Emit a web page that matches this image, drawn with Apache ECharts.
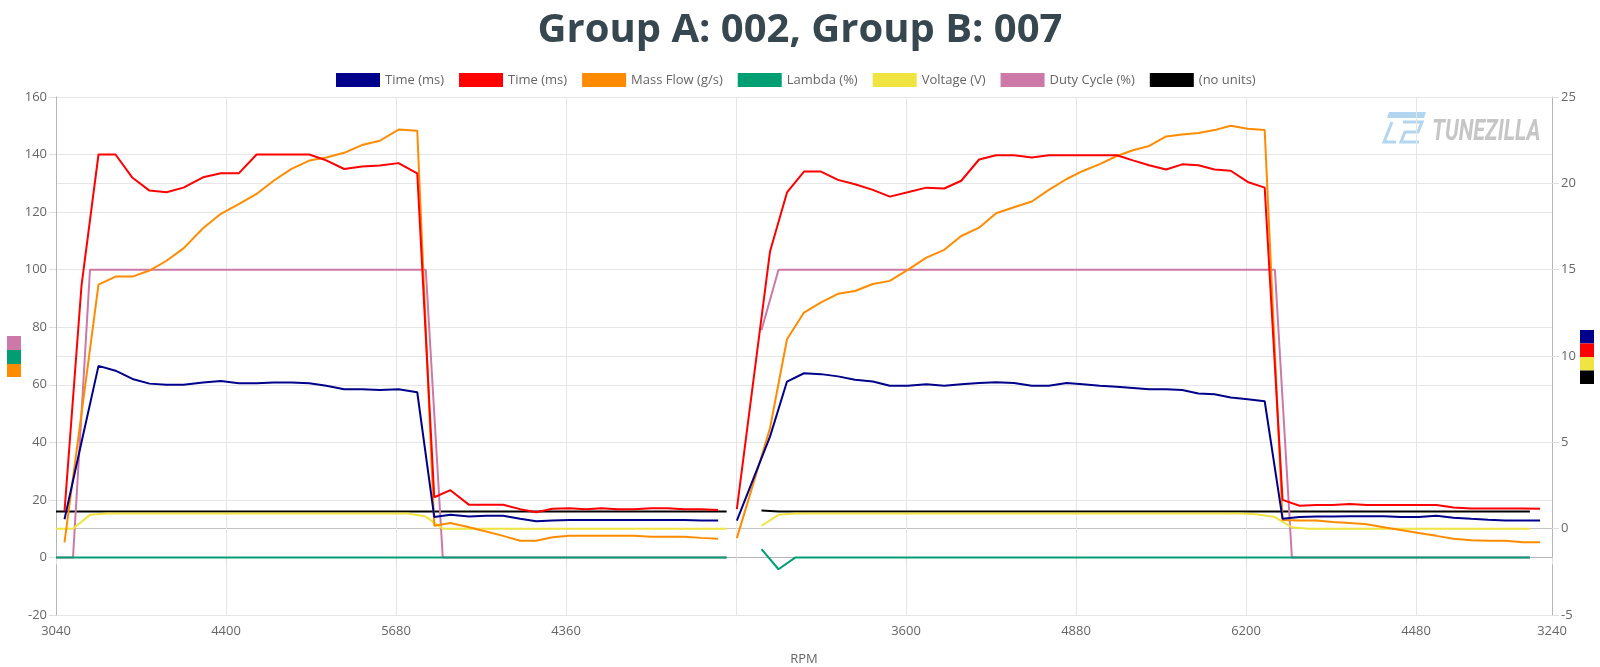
<!DOCTYPE html>
<html>
<head>
<meta charset="utf-8">
<title>Group A: 002, Group B: 007</title>
<script src="https://cdn.jsdelivr.net/npm/echarts@6/dist/echarts.min.js"></script>
<style>
  html, body { margin: 0; padding: 0; background: #fff; }
  #chart { width: 1600px; height: 667px; }
</style>
</head>
<body>
<div id="chart"></div>
<script>
// x is the sample position along the log, the RPM text is what was read at each gridline
const tickValues = [0, 10, 20, 30, 40, 50, 60, 70, 80, 88]
const tickLabels = ['3040', '4400', '5680', '4360', '', '3600', '4880', '6200', '4480', '3240']

// ---- Group A run ----
// fast channels (both injector times + mass flow)
const fastXA = [0.5, 1.5, 2.5, 3.5, 4.5, 5.5, 6.5, 7.5, 8.65, 9.7,
  10.75, 11.8, 12.8, 13.85, 14.9, 15.9, 16.95, 18, 19.05, 20.15,
  21.25, 22.25, 23.2, 24.3, 25.3, 26.3, 27.3, 28.25, 29.2, 30.2,
  31.15, 32.1, 33.05, 34, 35, 35.95, 36.95, 37.95, 38.95]
const timeBlueA = [0.55, 5.0, 9.43, 9.15, 8.67, 8.4, 8.33, 8.33, 8.47, 8.55,
  8.42, 8.42, 8.47, 8.47, 8.42, 8.28, 8.08, 8.08, 8.03, 8.08,
  7.9, 0.68, 0.8, 0.7, 0.75, 0.75, 0.58, 0.43, 0.47, 0.5,
  0.5, 0.5, 0.5, 0.5, 0.5, 0.5, 0.5, 0.48, 0.47]
const timeRedA = [1.0, 14.07, 21.67, 21.67, 20.32, 19.58, 19.48, 19.75, 20.35, 20.58,
  20.58, 21.67, 21.67, 21.67, 21.67, 21.33, 20.83, 20.98, 21.03, 21.17,
  20.58, 1.82, 2.23, 1.38, 1.38, 1.38, 1.13, 0.95, 1.15, 1.18,
  1.13, 1.18, 1.13, 1.13, 1.18, 1.18, 1.12, 1.12, 1.08]
const massFlowA = [5.2, 50, 94.8, 97.6, 97.6, 99.7, 103.1, 107.4, 114.4, 119.4,
  122.8, 126.3, 130.9, 135, 137.9, 139, 140.6, 143.3, 144.8, 148.7,
  148.3, 11, 12, 10.5, 9, 7.5, 5.8, 5.8, 7.0, 7.5,
  7.5, 7.5, 7.5, 7.5, 7.2, 7.2, 7.2, 6.8, 6.5]
// slow channels (lambda, voltage, duty, no units)
const slowXA = [0, 1, 2, 3, 4, 5, 6, 7, 8.1, 9.2,
  10.2, 11.3, 12.3, 13.3, 14.4, 15.4, 16.4, 17.5, 18.5, 19.6,
  20.7, 21.75, 22.75, 23.75, 24.8, 25.8, 26.8, 27.8, 28.75, 29.7,
  30.7, 31.65, 32.6, 33.55, 34.5, 35.5, 36.45, 37.45, 38.45, 39.45]
const lambdaA = [0, 0, 0, 0, 0, 0, 0, 0, 0, 0,
  0, 0, 0, 0, 0, 0, 0, 0, 0, 0,
  0, 0, 0, 0, 0, 0, 0, 0, 0, 0,
  0, 0, 0, 0, 0, 0, 0, 0, 0, 0]
const voltageA = [0, 0, 0.8, 0.88, 0.88, 0.88, 0.88, 0.88, 0.88, 0.88,
  0.88, 0.88, 0.88, 0.88, 0.88, 0.88, 0.88, 0.88, 0.88, 0.88,
  0.88, 0.7, 0, 0, 0, 0, 0, 0, 0, 0,
  0, 0, 0, 0, 0, 0, 0, 0, 0, 0]
const dutyA = [0, 0, 100, 100, 100, 100, 100, 100, 100, 100,
  100, 100, 100, 100, 100, 100, 100, 100, 100, 100,
  100, 100, 0, 0, 0, 0, 0, 0, 0, 0,
  0, 0, 0, 0, 0, 0, 0, 0, 0, 0]
const noUnitsA = [1, 1, 1, 1, 1, 1, 1, 1, 1, 1,
  1, 1, 1, 1, 1, 1, 1, 1, 1, 1,
  1, 1, 1, 1, 1, 1, 1, 1, 1, 1,
  1, 1, 1, 1, 1, 1, 1, 1, 1, 1]

// ---- Group B run ----
const fastXB = [40.05, 42, 43, 44, 45, 46, 47, 48.05, 49.05, 50.1,
  51.2, 52.25, 53.25, 54.3, 55.3, 56.35, 57.4, 58.4, 59.45, 60.4,
  61.4, 62.4, 63.35, 64.3, 65.3, 66.25, 67.2, 68.15, 69.1, 70.1,
  71.1, 72.15, 73.15, 74.15, 75.1, 76.1, 77.1, 78.1, 79.1, 80.15,
  81.2, 82.2, 83.25, 84.25, 85.25, 86.3, 87.3]
const timeBlueB = [0.47, 5.33, 8.52, 9.0, 8.95, 8.82, 8.62, 8.52, 8.28, 8.28,
  8.37, 8.28, 8.37, 8.43, 8.48, 8.43, 8.28, 8.28, 8.43, 8.37,
  8.28, 8.22, 8.15, 8.08, 8.08, 8.03, 7.83, 7.78, 7.6, 7.5,
  7.38, 0.58, 0.67, 0.7, 0.7, 0.72, 0.72, 0.72, 0.67, 0.67,
  0.75, 0.63, 0.57, 0.52, 0.48, 0.48, 0.48]
const timeRedB = [1.13, 16.05, 19.47, 20.68, 20.68, 20.2, 19.95, 19.62, 19.23, 19.48,
  19.75, 19.7, 20.15, 21.38, 21.63, 21.63, 21.5, 21.63, 21.63, 21.63,
  21.63, 21.63, 21.33, 21.05, 20.8, 21.1, 21.05, 20.8, 20.73, 20.08,
  19.75, 1.67, 1.33, 1.37, 1.37, 1.43, 1.37, 1.37, 1.37, 1.37,
  1.37, 1.22, 1.17, 1.17, 1.17, 1.17, 1.15]
const massFlowB = [6.7, 44.9, 75.8, 85.1, 88.6, 91.6, 92.6, 95, 96.1, 99.9,
  104.2, 106.9, 111.7, 114.6, 119.6, 121.7, 123.7, 127.7, 131.5, 134.3,
  136.7, 139.5, 141.5, 143, 146.3, 147, 147.5, 148.5, 150, 149,
  148.5, 13, 12.8, 12.8, 12.3, 12, 11.5, 10.5, 9.5, 8.5,
  7.5, 6.5, 6, 5.8, 5.8, 5.3, 5.3]
const slowXB = [41.5, 42.5, 43.5, 44.5, 45.5, 46.5, 47.5, 48.55, 49.55, 50.6,
  51.7, 52.75, 53.75, 54.8, 55.8, 56.85, 57.9, 58.9, 59.9, 60.9,
  61.9, 62.9, 63.85, 64.8, 65.8, 66.7, 67.7, 68.6, 69.6, 70.6,
  71.7, 72.7, 73.65, 74.65, 75.6, 76.6, 77.6, 78.6, 79.65, 80.7,
  81.7, 82.75, 83.75, 84.75, 85.75, 86.7]
const lambdaB = [2.9, -4.1, 0, 0, 0, 0, 0, 0, 0, 0,
  0, 0, 0, 0, 0, 0, 0, 0, 0, 0,
  0, 0, 0, 0, 0, 0, 0, 0, 0, 0,
  0, 0, 0, 0, 0, 0, 0, 0, 0, 0,
  0, 0, 0, 0, 0, 0]
const voltageB = [0.17, 0.8, 0.88, 0.88, 0.88, 0.88, 0.88, 0.88, 0.88, 0.88,
  0.88, 0.88, 0.88, 0.88, 0.88, 0.88, 0.88, 0.88, 0.88, 0.88,
  0.88, 0.88, 0.88, 0.88, 0.88, 0.88, 0.88, 0.88, 0.88, 0.83,
  0.67, 0.08, 0, 0, 0, 0, 0, 0, 0, 0,
  0, 0, 0, 0, 0, 0]
const dutyB = [79, 100, 100, 100, 100, 100, 100, 100, 100, 100,
  100, 100, 100, 100, 100, 100, 100, 100, 100, 100,
  100, 100, 100, 100, 100, 100, 100, 100, 100, 100,
  100, 0, 0, 0, 0, 0, 0, 0, 0, 0,
  0, 0, 0, 0, 0, 0]
const noUnitsB = [1.05, 1, 1, 1, 1, 1, 1, 1, 1, 1,
  1, 1, 1, 1, 1, 1, 1, 1, 1, 1,
  1, 1, 1, 1, 1, 1, 1, 1, 1, 1,
  1, 1, 1, 1, 1, 1, 1, 1, 1, 1,
  1, 1, 1, 1, 1, 1]

const NAVY = '#00008b'
const RED = '#ff0000'
const ORANGE = '#ff8c00'
const GREEN = '#009e73'
const YELLOW = '#f0e442'
const PINK = '#cc79a7'
const BLACK = '#000000'
const GRID = '#e6e6e6'

function points(xs, ys) {
  return xs.map((x, i) => [x, ys[i]])
}

// empty point between the two runs so every line breaks in the middle
function bothRuns(a, b) {
  return a.concat([['-', '-']], b)
}

function lineSeries(name, color, axis, data, z) {
  return {
    name: name,
    type: 'line',
    yAxisIndex: axis,
    data: data,
    z: z,
    showSymbol: false,
    symbol: 'none',
    connectNulls: false,
    lineStyle: { color: color, width: 2 },
    itemStyle: { color: color },
    emphasis: { disabled: true }
  }
}

const chart = echarts.init(document.getElementById('chart'))

chart.setOption({
  animation: false,
  title: {
    text: 'Group A: 002, Group B: 007',
    left: 'center',
    top: 6,
    textStyle: { fontSize: 40, fontWeight: 'bold', color: '#37474f', fontFamily: 'Open Sans' }
  },
  legend: {
    top: 68,
    left: 331,
    icon: 'rect',
    itemWidth: 44,
    itemHeight: 14,
    itemGap: 15,
    textStyle: { color: '#666', fontSize: 13, fontFamily: 'Open Sans' },
    formatter: name => name.trim(),
    data: ['Time (ms)', 'Time (ms) ', 'Mass Flow (g/s)', 'Lambda (%)', 'Voltage (V)', 'Duty Cycle (%)', '(no units)']
  },
  grid: { left: 56, right: 48, top: 97, bottom: 52, outerBoundsMode: 'none' },
  xAxis: {
    type: 'value',
    min: 0,
    max: 88,
    interval: 10,
    name: 'RPM',
    nameLocation: 'middle',
    nameGap: 38,
    nameTextStyle: { color: '#666', fontSize: 13, fontFamily: 'Open Sans' },
    axisLine: { show: true, lineStyle: { color: '#b5b5b5' } },
    axisTick: { show: true, length: 7, lineStyle: { color: '#dedede' } },
    axisLabel: {
      color: '#666',
      fontSize: 13,
      fontFamily: 'Open Sans',
      margin: 10,
      showMinLabel: true,
      showMaxLabel: true,
      formatter: v => {
        const i = tickValues.indexOf(v)
        return i < 0 ? '' : tickLabels[i]
      }
    },
    splitLine: { show: true, lineStyle: { color: GRID } }
  },
  yAxis: [
    {
      type: 'value',
      min: -20,
      max: 160,
      interval: 20,
      position: 'left',
      axisLine: { show: true, lineStyle: { color: '#b5b5b5' } },
      axisTick: { show: true, length: 7, lineStyle: { color: '#dedede' } },
      axisLabel: { color: '#666', fontSize: 13, fontFamily: 'Open Sans', margin: 9 },
      splitLine: { show: true, lineStyle: { color: [GRID, '#c4c4c4', GRID, GRID, GRID, GRID, GRID, GRID, GRID, GRID] } }
    },
    {
      type: 'value',
      min: -5,
      max: 25,
      interval: 5,
      position: 'right',
      axisLine: { show: true, lineStyle: { color: '#b5b5b5' } },
      axisTick: { show: true, length: 7, lineStyle: { color: '#dedede' } },
      axisLabel: { color: '#666', fontSize: 13, fontFamily: 'Open Sans', margin: 9 },
      splitLine: { show: true, lineStyle: { color: [GRID, '#c4c4c4', GRID, GRID, GRID, GRID, GRID] } }
    }
  ],
  graphic: [
    // which series sit on which axis
    { type: 'rect', shape: { x: 7, y: 336, width: 14, height: 14 }, style: { fill: PINK } },
    { type: 'rect', shape: { x: 7, y: 350, width: 14, height: 14 }, style: { fill: GREEN } },
    { type: 'rect', shape: { x: 7, y: 364, width: 14, height: 13 }, style: { fill: ORANGE } },
    { type: 'rect', shape: { x: 1580, y: 330, width: 14, height: 13.5 }, style: { fill: NAVY } },
    { type: 'rect', shape: { x: 1580, y: 343.5, width: 14, height: 13.5 }, style: { fill: RED } },
    { type: 'rect', shape: { x: 1580, y: 357, width: 14, height: 13.5 }, style: { fill: YELLOW } },
    { type: 'rect', shape: { x: 1580, y: 370.5, width: 14, height: 13.5 }, style: { fill: BLACK } },
    // watermark
    { type: 'polygon', shape: { points: [[1389, 112], [1426, 112], [1424, 118], [1387, 118]] }, style: { fill: '#b3d6f0' } },
    { type: 'polyline', shape: { points: [[1392, 122], [1384, 142], [1396, 142]] }, style: { stroke: '#b3d6f0', lineWidth: 3, fill: null } },
    { type: 'polyline', shape: { points: [[1403, 122], [1422, 122], [1418, 132], [1405, 132], [1401, 142], [1419, 142]] }, style: { stroke: '#b3d6f0', lineWidth: 3, fill: null } },
    {
      type: 'text',
      x: 1432,
      y: 133,
      scaleX: 0.74,
      style: { text: 'TUNEZILLA', font: 'italic bold 29px Roboto', fill: '#c6c6c6', verticalAlign: 'middle' }
    }
  ],
  series: [
    lineSeries('Time (ms)', NAVY, 1, bothRuns(points(fastXA, timeBlueA), points(fastXB, timeBlueB)), 10),
    lineSeries('Time (ms) ', RED, 1, bothRuns(points(fastXA, timeRedA), points(fastXB, timeRedB)), 9),
    lineSeries('Mass Flow (g/s)', ORANGE, 0, bothRuns(points(fastXA, massFlowA), points(fastXB, massFlowB)), 8),
    lineSeries('Lambda (%)', GREEN, 0, bothRuns(points(slowXA, lambdaA), points(slowXB, lambdaB)), 7),
    lineSeries('Voltage (V)', YELLOW, 1, bothRuns(points(slowXA, voltageA), points(slowXB, voltageB)), 6),
    lineSeries('Duty Cycle (%)', PINK, 0, bothRuns(points(slowXA, dutyA), points(slowXB, dutyB)), 5),
    lineSeries('(no units)', BLACK, 1, bothRuns(points(slowXA, noUnitsA), points(slowXB, noUnitsB)), 4)
  ]
})

window.onresize = () => {
  chart.resize()
}
</script>
</body>
</html>
